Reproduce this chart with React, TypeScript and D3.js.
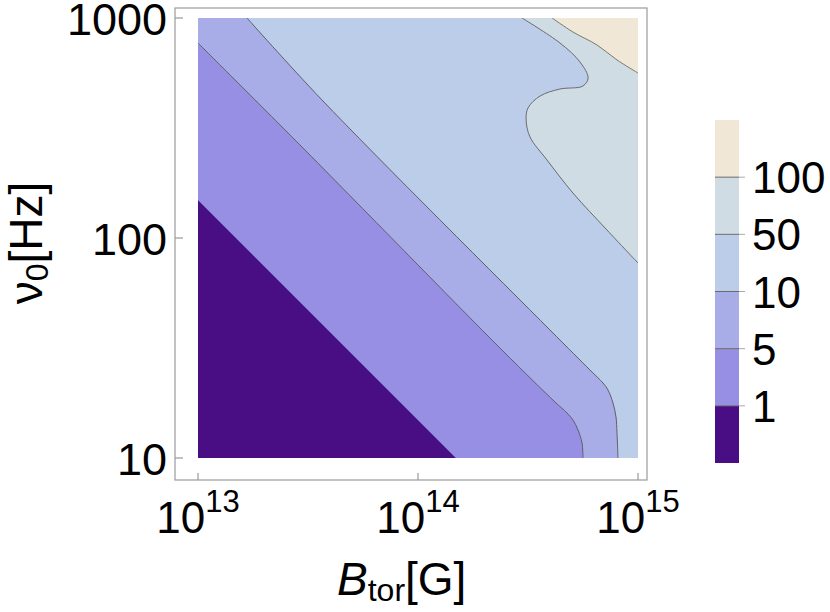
import React from "react";
import * as d3 from "d3";

// ---- data ----
const levels = [1, 5, 10, 50, 100];
const levelLabels = ["1", "5", "10", "50", "100"];
const bandColors = ["#4a0e84", "#978fe4", "#a8ade8", "#bccdea", "#cfdce4", "#f0e7d6"];
const xTicks = [1e13, 1e14, 1e15];
const xTickExponents = ["13", "14", "15"];
const yTicks = [10, 100, 1000];
const yTickLabels = ["10", "100", "1000"];

// contour lines, [B_tor (G), nu0 (Hz)]
const contour1: [number, number][] = [
  [1e13, 148.8],
  [1.488e14, 10],
];
const contour5: [number, number][] = [
  [1e13, 769.7],
  [2.908e13, 264.7],
  [2.408e14, 30.96],
  [4.195e14, 17.97],
  [4.756e14, 16.02],
  [5.064e14, 14.88],
  [5.337e14, 13.41],
  [5.566e14, 11.7],
  [5.623e14, 10],
];
const contour10: [number, number][] = [
  [1.67e13, 1000],
  [3.661e13, 424],
  [3.981e14, 38.18],
  [6.05e14, 25.12],
  [6.933e14, 21.92],
  [7.304e14, 20.38],
  [7.697e14, 17.78],
  [7.943e14, 15.36],
  [8.027e14, 12.99],
  [8.111e14, 10],
];
const contour50: [number, number][] = [
  [2.97e14, 1000],
  [4.42e14, 769.7],
  [5.45e14, 631],
  [5.93e14, 533.7],
  [5.62e14, 490.8],
  [4.42e14, 475.6],
  [3.59e14, 442],
  [3.162e14, 389.9],
  [3.1e14, 343.9],
  [3.23e14, 287.9],
  [3.86e14, 226.1],
  [5.06e14, 160.2],
  [7.23e14, 108.7],
  [1e15, 76.97],
];
const contour100: [number, number][] = [
  [4.07e14, 1000],
  [5.06e14, 863.9],
  [6.51e14, 754],
  [8.03e14, 644.5],
  [1e15, 562.3],
];
const contours = [contour1, contour5, contour10, contour50, contour100];
const contourStrokes = ["#7470b4", "#5f5f6a", "#5f5f6a", "#6a6a70", "#7a7a70"];

const FONT = "'Liberation Sans', Arial, Helvetica, sans-serif";

export default function App() {
  const L = 198, R = 638, T = 18, B = 458;
  const x = d3.scaleLog().domain([1e13, 1e15]).range([L, R]);
  const y = d3.scaleLog().domain([10, 1000]).range([B, T]);

  const corners: [number, number][] = [
    [L, B],
    [R, B],
    [R, T],
    [L, T],
  ];
  const perim = (p: [number, number]) => {
    const [px, py] = p;
    const d = [Math.abs(py - B), Math.abs(px - R), Math.abs(py - T), Math.abs(px - L)];
    const e = d.indexOf(Math.min(...d));
    if (e === 0) return (px - L) / (R - L);
    if (e === 1) return 1 + (B - py) / (B - T);
    if (e === 2) return 2 + (R - px) / (R - L);
    return 3 + (py - T) / (B - T);
  };
  const lineGen = d3
    .line<[number, number]>()
    .x((d) => d[0])
    .y((d) => d[1])
    .curve(d3.curveCatmullRom.alpha(0.5));

  const toPx = (c: [number, number][]) => c.map((d) => [x(d[0]), y(d[1])] as [number, number]);

  const regionPath = (pts: [number, number][]) => {
    let s = lineGen(pts) || "";
    const te = perim(pts[pts.length - 1]);
    let ts = perim(pts[0]);
    if (ts <= te) ts += 4;
    for (let k = Math.ceil(te); k < ts; k++) {
      if (k === te) continue;
      const c = corners[k % 4];
      s += `L${c[0]},${c[1]}`;
    }
    return s + "Z";
  };

  // colour bar
  const cb = d3.scaleLinear().domain([0, bandColors.length]).range([463, 120]);
  const cbX = 715, cbW = 24;

  return (
    <svg
      width={830}
      height={612}
      style={{ position: "absolute", left: 0, top: 0, display: "block", background: "#fff" }}
      fontFamily={FONT}
    >
      <defs>
        <clipPath id="plotclip">
          <rect x={L} y={T} width={R - L} height={B - T} />
        </clipPath>
      </defs>
      <g clipPath="url(#plotclip)">
        <rect x={L} y={T} width={R - L} height={B - T} fill={bandColors[0]} />
        {contours.map((c, i) => (
          <path key={"f" + i} d={regionPath(toPx(c))} fill={bandColors[i + 1]} stroke="none" />
        ))}
        {contours.map((c, i) => (
          <path
            key={"s" + i}
            d={lineGen(toPx(c)) || ""}
            fill="none"
            stroke={contourStrokes[i]}
            strokeWidth={1}
          />
        ))}
      </g>

      {/* frame */}
      <rect x={175} y={8} width={472} height={472} fill="none" stroke="#9a9a9a" strokeWidth={1.2} />
      {yTicks.map((t, i) => (
        <g key={"yt" + i}>
          <line x1={175} x2={183} y1={y(t)} y2={y(t)} stroke="#9a9a9a" strokeWidth={1.2} />
          <text x={167} y={y(t) + 17} textAnchor="end" fontSize={45} fill="#000">
            {yTickLabels[i]}
          </text>
        </g>
      ))}
      {xTicks.map((t, i) => (
        <g key={"xt" + i}>
          <line x1={x(t)} x2={x(t)} y1={480} y2={473} stroke="#9a9a9a" strokeWidth={1.2} />
          <text x={x(t)} y={533} textAnchor="middle" fontSize={44} fill="#000">
            <tspan>10</tspan>
            <tspan fontSize={31} dy={-21}>
              {xTickExponents[i]}
            </tspan>
          </text>
        </g>
      ))}

      {/* axis labels */}
      <text x={337} y={595} fontSize={46} fill="#000">
        <tspan fontStyle="italic">B</tspan>
        <tspan fontSize={32} dy={6}>
          tor
        </tspan>
        <tspan dy={-6}>[G]</tspan>
      </text>
      <text transform="translate(42,243) rotate(-90)" textAnchor="middle" fontSize={46} fill="#000">
        <tspan>ν</tspan>
        <tspan fontSize={32} dy={6}>
          0
        </tspan>
        <tspan dy={-6}>[Hz]</tspan>
      </text>

      {/* colour bar */}
      {bandColors.map((c, i) => (
        <rect key={"cb" + i} x={cbX} y={cb(i + 1)} width={cbW} height={cb(i) - cb(i + 1)} fill={c} />
      ))}
      {levels.map((lv, i) => (
        <g key={"cbl" + lv}>
          <line x1={cbX} x2={cbX + cbW} y1={cb(i + 1)} y2={cb(i + 1)} stroke="#6a6a6a" strokeWidth={1} />
          <line x1={cbX + cbW} x2={cbX + cbW + 6} y1={cb(i + 1)} y2={cb(i + 1)} stroke="#aaa" strokeWidth={1} />
          <text x={752} y={cb(i + 1) + 16} fontSize={44} fill="#000">
            {levelLabels[i]}
          </text>
        </g>
      ))}
    </svg>
  );
}
